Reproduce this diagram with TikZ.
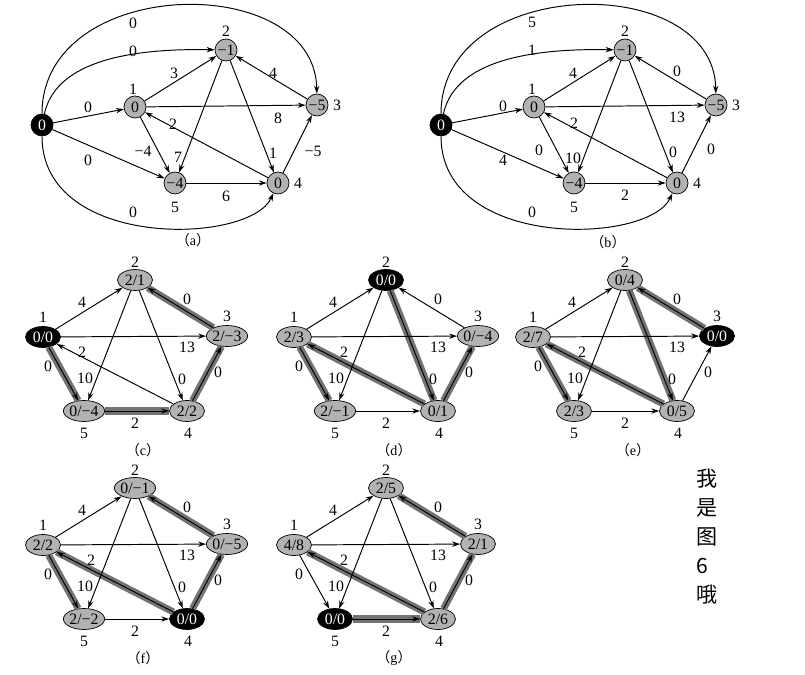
\documentclass[tikz,border=0pt]{standalone}
\usepackage{fontspec}
\setmainfont{Liberation Serif}
\newfontfamily\cjk{Noto Sans CJK SC}
\usetikzlibrary{arrows.meta, shapes.geometric}
\tikzset{
    vertex/.style={circle, draw=black, fill=black!30, minimum size=0.44cm, inner sep=0pt, font=\fontsize{9}{10}\selectfont},
    pairnode/.style={ellipse, draw=black, fill=black!30, minimum width=0.7cm, minimum height=0.42cm, inner sep=0pt, font=\fontsize{9}{10}\selectfont},
    src/.style={fill=black, text=white},
    s1/.style={}, s2/.style={}, s3/.style={}, s4/.style={}, s5/.style={},
    line/.style={-{Stealth[length=4.5pt, width=3pt]}, line width=0.55pt},
    treeedge/.style={line, preaction={draw=black!55, line width=4pt, -}},
    wt/.style={font=\fontsize{9}{10}\selectfont, inner sep=0pt},
    idx/.style={font=\fontsize{9}{10}\selectfont, inner sep=0pt},
    captext/.style={font=\fontsize{8}{9}\selectfont, inner sep=0pt}
}
% five vertices of one reweighted graph, in local coordinates
\newcommand{\pentagon}[6]{%
    \node[pairnode, s1] (#1-1) at (43,97) {#2};
    \node[pairnode, s2] (#1-2) at (135,40) {#3};
    \node[pairnode, s3] (#1-3) at (227,96) {#4};
    \node[pairnode, s4] (#1-4) at (187,171) {#5};
    \node[pairnode, s5] (#1-5) at (84,171) {#6};
    \node[idx] (#1-n1) at (43,77) {1};
    \node[idx] (#1-n2) at (135,22) {2};
    \node[idx] (#1-n3) at (227,76) {3};
    \node[idx] (#1-n4) at (188,193) {4};
    \node[idx] (#1-n5) at (84,193) {5};
}
% edge weights after reweighting, #2 = x of the label on edge 4->1
\newcommand{\pentaweights}[2]{%
    \node[wt] (#1-w12) at (82,62) {4};
    \node[wt] (#1-w13) at (187,107) {13};
    \node[wt] (#1-w15) at (48,126) {0};
    \node[wt] (#1-w25) at (85,138) {10};
    \node[wt] (#1-w24) at (182,139) {0};
    \node[wt] (#1-w32) at (187,59) {0};
    \node[wt] (#1-w41) at (#2,112) {2};
    \node[wt] (#1-w43) at (218,132) {0};
    \node[wt] (#1-w54) at (135,183) {2};
}

\begin{document}
\begin{tikzpicture}[x=0.02cm, y=-0.02cm]
    \useasboundingbox (0,0) rectangle (805,675);

    % (a) graph with the new source vertex
    \begin{scope}
        \node[vertex, src] (a-s) at (42,125) {0};
        \node[vertex] (a-1) at (135,107) {0};
        \node[vertex] (a-2) at (226,50) {−1};
        \node[vertex] (a-3) at (317,105) {−5};
        \node[vertex] (a-4) at (278,183) {0};
        \node[vertex] (a-5) at (175,183) {−4};
        \node[idx] (a-n1) at (133,89) {1};
        \node[idx] (a-n2) at (226,31) {2};
        \node[idx] (a-n3) at (337,105) {3};
        \node[idx] (a-n4) at (298,183) {4};
        \node[idx] (a-n5) at (175,207) {5};
        \foreach \u/\v/\w/\p in {s/1/0/{(88,107)}, s/5/0/{(88,160)}, 1/2/3/{(174,73)}, 1/3/8/{(278,118)},
                1/5/−4/{(143,151)}, 2/5/7/{(178,157)}, 2/4/1/{(273,153)}, 3/2/4/{(273,73)},
                4/1/2/{(173,124)}, 4/3/−5/{(313,151)}, 5/4/6/{(226,196)}}
            \draw[line] (a-\u) -- (a-\v) node[wt] (a-w\u\v) at \p {\w};
        \draw[line] (a-s) .. controls (42,-25) and (315,-30) .. (a-3) node[wt] (a-ws3) at (133,23) {0};
        \draw[line] (a-s) .. controls (55,65) and (120,48) .. (a-2) node[wt] (a-ws2) at (133,51) {0};
        \draw[line] (a-s) .. controls (42,250) and (250,245) .. (a-4) node[wt] (a-ws4) at (133,212) {0};
        \node[captext] (a-cap) at (193,240) {{\cjk （}a{\cjk ）}};
    \end{scope}

    % (b) reweighted graph
    \begin{scope}[shift={(399,0)}]
        \node[vertex, src] (b-s) at (42,125) {0};
        \node[vertex] (b-1) at (135,107) {0};
        \node[vertex] (b-2) at (226,50) {−1};
        \node[vertex] (b-3) at (317,105) {−5};
        \node[vertex] (b-4) at (278,183) {0};
        \node[vertex] (b-5) at (175,183) {−4};
        \node[idx] (b-n1) at (133,89) {1};
        \node[idx] (b-n2) at (226,31) {2};
        \node[idx] (b-n3) at (337,105) {3};
        \node[idx] (b-n4) at (298,183) {4};
        \node[idx] (b-n5) at (175,207) {5};
        \foreach \u/\v/\w/\p in {s/1/0/{(104,106)}, s/5/4/{(104,160)}, 1/2/4/{(174,73)}, 1/3/13/{(278,117)},
                1/5/0/{(140,150)}, 2/5/10/{(174,158)}, 2/4/0/{(274,152)}, 3/2/0/{(278,71)},
                4/1/2/{(175,123)}, 4/3/0/{(312,149)}, 5/4/2/{(226,195)}}
            \draw[line] (b-\u) -- (b-\v) node[wt] (b-w\u\v) at \p {\w};
        \draw[line] (b-s) .. controls (42,-25) and (315,-30) .. (b-3) node[wt] (b-ws3) at (133,22) {5};
        \draw[line] (b-s) .. controls (55,65) and (120,48) .. (b-2) node[wt] (b-ws2) at (133,50) {1};
        \draw[line] (b-s) .. controls (42,250) and (250,245) .. (b-4) node[wt] (b-ws4) at (133,212) {0};
        \node[captext] (b-cap) at (209,242) {{\cjk （}b{\cjk ）}};
    \end{scope}

    % (c) source 1
    \begin{scope}[shift={(0,240)}, s1/.style=src]
        \pentagon{c}{0/0}{2/1}{2/−3}{2/2}{0/−4}
        \foreach \u/\v/\k in {1/5/treeedge, 5/4/treeedge, 4/3/treeedge, 3/2/treeedge,
                1/2/line, 1/3/line, 2/5/line, 2/4/line, 4/1/line}
            \draw[\k] (c-\u) -- (c-\v);
        \pentaweights{c}{82}
        \node[captext] (c-cap) at (143,210) {{\cjk （}c{\cjk ）}};
    \end{scope}

    % (d) source 2
    \begin{scope}[shift={(251,240)}, s2/.style=src]
        \pentagon{d}{2/3}{0/0}{0/−4}{0/1}{2/−1}
        \foreach \u/\v/\k in {2/4/treeedge, 4/1/treeedge, 1/5/treeedge, 4/3/treeedge,
                1/2/line, 1/3/line, 2/5/line, 3/2/line, 5/4/line}
            \draw[\k] (d-\u) -- (d-\v);
        \pentaweights{d}{93}
        \node[captext] (d-cap) at (143,210) {{\cjk （}d{\cjk ）}};
    \end{scope}

    % (e) source 3
    \begin{scope}[shift={(490,240)}, s3/.style=src]
        \pentagon{e}{2/7}{0/4}{0/0}{0/5}{2/3}
        \foreach \u/\v/\k in {3/2/treeedge, 2/4/treeedge, 4/1/treeedge, 1/5/treeedge,
                4/3/line, 1/2/line, 1/3/line, 2/5/line, 5/4/line}
            \draw[\k] (e-\u) -- (e-\v);
        \pentaweights{e}{92}
        \node[captext] (e-cap) at (143,210) {{\cjk （}e{\cjk ）}};
    \end{scope}

    % (f) source 4
    \begin{scope}[shift={(0,448)}, s4/.style=src]
        \pentagon{f}{2/2}{0/−1}{0/−5}{0/0}{2/−2}
        \foreach \u/\v/\k in {4/3/treeedge, 3/2/treeedge, 4/1/treeedge, 1/5/treeedge,
                5/4/line, 1/2/line, 1/3/line, 2/5/line, 2/4/line}
            \draw[\k] (f-\u) -- (f-\v);
        \pentaweights{f}{91}
        \node[captext] (f-cap) at (143,210) {{\cjk （}f{\cjk ）}};
    \end{scope}

    % (g) source 5
    \begin{scope}[shift={(251,448)}, s5/.style=src]
        \pentagon{g}{4/8}{2/5}{2/1}{2/6}{0/0}
        \foreach \u/\v/\k in {5/4/treeedge, 4/3/treeedge, 3/2/treeedge, 4/1/treeedge,
                1/5/line, 1/2/line, 1/3/line, 2/5/line, 2/4/line}
            \draw[\k] (g-\u) -- (g-\v);
        \pentaweights{g}{93}
        \node[captext] (g-cap) at (143,210) {{\cjk （}g{\cjk ）}};
    \end{scope}

    % side note
    \node[font=\cjk\fontsize{12}{16.5}\selectfont, align=left, inner sep=0pt] (note) at (707,537) {我\\是\\图\\6\\哦};
\end{tikzpicture}
\end{document}
